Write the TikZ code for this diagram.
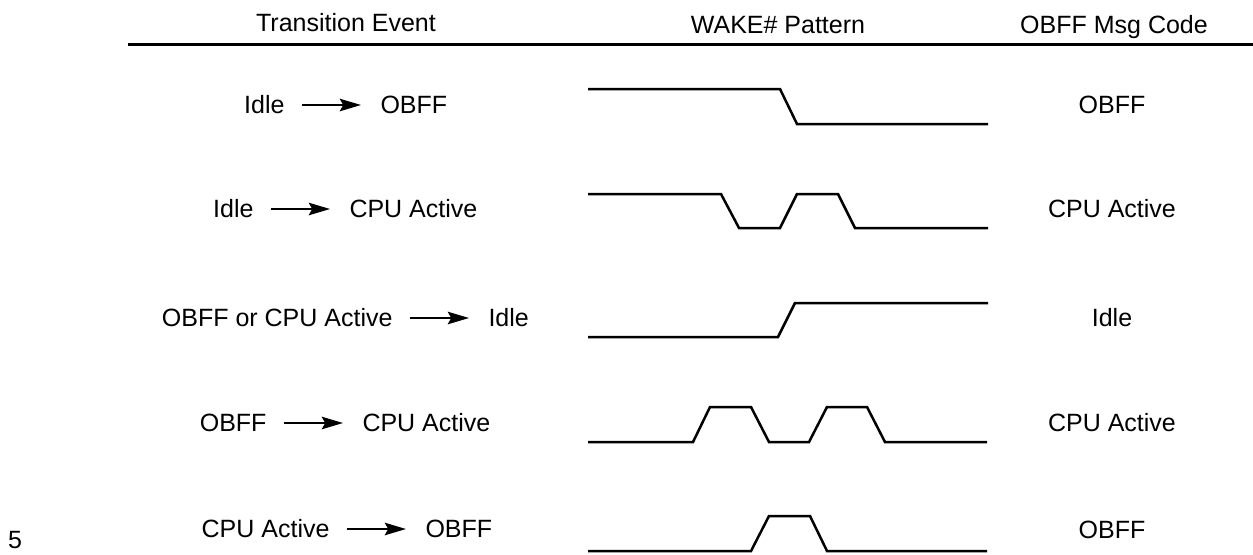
\documentclass[tikz,border=0pt]{standalone}
\usepackage{fontspec}
\setmainfont{Liberation Sans}
\usetikzlibrary{arrows.meta,positioning}

\begin{document}
\begin{tikzpicture}[x=0.4pt, y=-0.4pt, font=\fontsize{10}{12}\selectfont,
  lbl/.style={inner sep=0pt},
  sig/.style={line width=1pt, line join=miter},
  go/.style={-{Stealth[length=8.5pt,width=5pt,inset=1.4pt]}, line width=0.8pt,
    shorten <=6.6pt, shorten >=7.6pt},
  node distance=38pt]
\useasboundingbox (0,0) rectangle (1253,554);

%header
\node[lbl, anchor=base] (hev) at (346,31) {Transition Event};
\node[lbl, anchor=base] (hwk) at (778,33) {WAKE\# Pattern};
\node[lbl, anchor=base] (hmc) at (1114,33) {OBFF Msg Code};
\draw[line width=1.2pt] (128,44) -- (1253,44);

%first
\node[lbl, anchor=east] (idle1) at (285,105) {Idle};
\node[lbl, right=of idle1] (obff1) {OBFF};
\draw[go] (idle1) -- (obff1);
\draw[sig] (588,89) -- (780,89) -- (797,124) -- (988,124);
\node[lbl] (code1) at (1112,105) {OBFF};

% %second
\node[lbl, anchor=east] (idle2) at (254,209) {Idle};
\node[lbl, right=of idle2] (cpu2) {CPU Active};
\draw[go] (idle2) -- (cpu2);
\draw[sig] (588,194) -- (721,194) -- (739,228) -- (780,228) -- (797,194)
  -- (838,194) -- (855,228) -- (988,228);
\node[lbl] (code2) at (1112,209) {CPU Active};

% %third
\node[lbl, anchor=east] (any3) at (393,318) {OBFF or CPU Active};
\node[lbl, right=of any3] (idle3) {Idle};
\draw[go] (any3) -- (idle3);
\draw[sig] (588,337) -- (778,337) -- (795,303) -- (988,303);
\node[lbl] (code3) at (1112,318) {Idle};

% %fourth
\node[lbl, anchor=east] (obff4) at (267,423) {OBFF};
\node[lbl, right=of obff4] (cpu4) {CPU Active};
\draw[go] (obff4) -- (cpu4);
\draw[sig] (588,442) -- (693,442) -- (710,407) -- (751,407) -- (769,442)
  -- (809,442) -- (827,407) -- (867,407) -- (885,442) -- (987,442);
\node[lbl] (code4) at (1112,423) {CPU Active};

% %draw last
\node[lbl, anchor=east] (cpu5) at (330,529) {CPU Active};
\node[lbl, right=of cpu5] (obff5) {OBFF};
\draw[go] (cpu5) -- (obff5);
\draw[sig] (588,551) -- (751,551) -- (769,516) -- (810,516) -- (827,551) -- (987,551);
\node[lbl] (code5) at (1112,530) {OBFF};

%line number
\node[lbl] (lnum) at (15,540) {5};
\end{tikzpicture}
\end{document}
